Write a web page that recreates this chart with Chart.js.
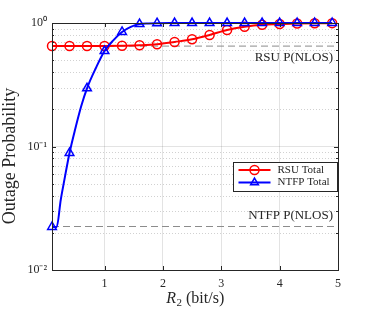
<!DOCTYPE html>
<html>
<head>
<meta charset="utf-8">
<script src="https://cdn.jsdelivr.net/npm/chart.js@4.4.0/dist/chart.umd.min.js"></script>
<style>
  html, body { margin: 0; padding: 0; background: #fff; }
  #wrap { width: 374px; height: 311px; }
</style>
</head>
<body>
<div id="wrap"><canvas id="outage"></canvas></div>
<script>
// rates where the markers sit (bit/s)
const markerRates = [0.1, 0.4, 0.7, 1.0, 1.3, 1.6, 1.9, 2.2, 2.5, 2.8, 3.1, 3.4, 3.7, 4.0, 4.3, 4.6, 4.9];
const rsuTotal = [0.651, 0.651, 0.651, 0.652, 0.655, 0.66, 0.672, 0.702, 0.738, 0.80, 0.878, 0.933, 0.969, 0.98, 0.99, 0.995, 0.997];

// NTFP curve has a few extra points near the steep part
const ntfpRates = [0.1, 0.18, 0.25, 0.3, 0.4, 0.5, 0.6, 0.7, 0.85, 1.0, 1.15, 1.3, 1.45, 1.6, 1.75, 1.9, 2.2, 2.5, 2.8, 3.1, 3.4, 3.7, 4.0, 4.3, 4.6, 4.9];
const ntfpTotal = [0.0223, 0.0223, 0.037, 0.05, 0.0886, 0.14, 0.212, 0.296, 0.43, 0.593, 0.724, 0.846, 0.93, 0.98, 0.992, 0.997, 0.999, 1, 1, 1, 1, 1, 1, 1, 1, 1];

const rsuNlos = 0.65;
const ntfpNlos = 0.0225;

const xTicks = [1, 2, 3, 4, 5];
const yTicks = [0.01, 0.1, 1];
const yTickLabels = { '-2': '10\u207B\u00B2', '-1': '10\u207B\u00B9', '0': '10\u2070' };
const seriesLabels = ['RSU Total', 'NTFP Total'];
const refLabels = ['RSU P(NLOS)', 'NTFP P(NLOS)'];
const yTitle = 'Outage Probability';

const serif = "'Liberation Serif', 'Times New Roman', serif";
const isMarker = (x) => markerRates.some(r => Math.abs(r - x) < 1e-6);

const toPoints = (xs, ys) => xs.map((x, i) => ({ x: x, y: ys[i] }));

// minor log grid, inward ticks, axes box, titles, legend
const frame = {
  id: 'frame',
  beforeDatasetsDraw(chart) {
    const { ctx, chartArea: ca, scales } = chart;
    const ys = scales.y;
    ctx.save();
    ctx.strokeStyle = 'rgba(0,0,0,0.18)';
    ctx.lineWidth = 1;
    ctx.setLineDash([1, 2]);
    for (let d = 0; d < yTicks.length - 1; d++) {
      for (let m = 2; m <= 9; m++) {
        const y = Math.round(ys.getPixelForValue(m * yTicks[d])) + 0.5;
        ctx.beginPath();
        ctx.moveTo(ca.left, y);
        ctx.lineTo(ca.right, y);
        ctx.stroke();
      }
    }
    ctx.restore();
  },
  afterDraw(chart) {
    const { ctx, chartArea: ca, scales } = chart;
    ctx.save();
    ctx.strokeStyle = '#262626';
    ctx.lineWidth = 1;
    ctx.strokeRect(Math.round(ca.left) + 0.5, Math.round(ca.top) + 0.5,
      Math.round(ca.right - ca.left), Math.round(ca.bottom - ca.top));
    ctx.beginPath();
    xTicks.forEach(v => {
      const x = Math.round(scales.x.getPixelForValue(v)) + 0.5;
      ctx.moveTo(x, ca.bottom); ctx.lineTo(x, ca.bottom - 4);
      ctx.moveTo(x, ca.top); ctx.lineTo(x, ca.top + 4);
    });
    for (let d = 0; d < yTicks.length; d++) {
      const ms = d < yTicks.length - 1 ? [1, 2, 3, 4, 5, 6, 7, 8, 9] : [1];
      ms.forEach(m => {
        const y = Math.round(scales.y.getPixelForValue(m * yTicks[d])) + 0.5;
        const len = m === 1 ? 4 : 2;
        ctx.moveTo(ca.left, y); ctx.lineTo(ca.left + len, y);
        ctx.moveTo(ca.right, y); ctx.lineTo(ca.right - len, y);
      });
    }
    ctx.stroke();

    // reference line captions
    ctx.fillStyle = '#262626';
    ctx.font = '13px ' + serif;
    ctx.textAlign = 'right';
    ctx.textBaseline = 'middle';
    ctx.fillText(refLabels[0], ca.right - 5, scales.y.getPixelForValue(rsuNlos) + 11);
    ctx.fillText(refLabels[1], ca.right - 5, scales.y.getPixelForValue(ntfpNlos) - 11);

    // axis titles
    ctx.save();
    ctx.translate(10, 156);
    ctx.rotate(-Math.PI / 2);
    ctx.textAlign = 'center';
    ctx.font = '18px ' + serif;
    ctx.fillText(yTitle, 0, 0);
    ctx.restore();

    const big = '16px ' + serif, small = '11px ' + serif;
    ctx.textAlign = 'left';
    ctx.textBaseline = 'alphabetic';
    ctx.font = 'italic ' + big;
    const wR = ctx.measureText('R').width;
    ctx.font = small;
    const w2 = ctx.measureText('2').width;
    ctx.font = big;
    const wRest = ctx.measureText(' (bit/s)').width;
    let tx = (ca.left + ca.right) / 2 - (wR + w2 + wRest) / 2;
    const ty = 303;
    ctx.font = 'italic ' + big;
    ctx.fillText('R', tx, ty); tx += wR + 0.5;
    ctx.font = small;
    ctx.fillText('2', tx, ty + 3); tx += w2;
    ctx.font = big;
    ctx.fillText(' (bit/s)', tx, ty);

    // legend box
    const bw = 104, bh = 29;
    const bx = Math.round(ca.right) - bw - 1 + 0.5;
    const by = Math.round(ca.top) + 139 + 0.5;
    ctx.fillStyle = '#fff';
    ctx.fillRect(bx, by, bw, bh);
    ctx.strokeStyle = '#262626';
    ctx.strokeRect(bx, by, bw, bh);
    ctx.textBaseline = 'middle';
    chart.data.datasets.slice(0, 2).forEach((ds, i) => {
      const ly = by + 7.5 + i * 12.5;
      ctx.strokeStyle = ds.borderColor;
      ctx.lineWidth = 2;
      ctx.beginPath();
      ctx.moveTo(bx + 5, ly); ctx.lineTo(bx + 37, ly);
      ctx.stroke();
      ctx.fillStyle = 'rgba(0,0,0,0)';
      ctx.lineWidth = 1.5;
      Chart.helpers.drawPoint(ctx, { pointStyle: ds.pointStyle, radius: 4.5, borderWidth: 1.5 }, bx + 21, ly);
      ctx.fillStyle = '#262626';
      ctx.font = '11px ' + serif;
      ctx.textAlign = 'left';
      ctx.fillText(seriesLabels[i], bx + 44, ly);
    });
    ctx.restore();
  }
};

new Chart(document.getElementById('outage'), {
  type: 'line',
  data: {
    datasets: [
      {
        label: seriesLabels[0],
        data: toPoints(markerRates, rsuTotal),
        borderColor: '#ff0000',
        backgroundColor: 'rgba(0,0,0,0)',
        pointBackgroundColor: 'rgba(0,0,0,0)',
        borderWidth: 2,
        pointStyle: 'circle',
        pointRadius: 4.5,
        pointBorderWidth: 1.5,
        cubicInterpolationMode: 'monotone',
        clip: false,
        order: 1
      },
      {
        label: seriesLabels[1],
        data: toPoints(ntfpRates, ntfpTotal),
        borderColor: '#0000ff',
        backgroundColor: 'rgba(0,0,0,0)',
        pointBackgroundColor: 'rgba(0,0,0,0)',
        borderWidth: 2,
        pointStyle: 'triangle',
        pointRadius: (c) => (c.raw && isMarker(c.raw.x)) ? 5 : 0,
        pointBorderWidth: 1.5,
        cubicInterpolationMode: 'monotone',
        clip: false,
        order: 0
      },
      {
        label: refLabels[0],
        data: toPoints([0.1, 5], [rsuNlos, rsuNlos]),
        borderColor: '#8c8c8c',
        borderWidth: 1,
        borderDash: [7, 4],
        pointRadius: 0,
        order: 2
      },
      {
        label: refLabels[1],
        data: toPoints([0.1, 5], [ntfpNlos, ntfpNlos]),
        borderColor: '#8c8c8c',
        borderWidth: 1,
        borderDash: [7, 4],
        pointRadius: 0,
        order: 2
      }
    ]
  },
  options: {
    responsive: true,
    maintainAspectRatio: false,
    animation: false,
    layout: { padding: { top: 23, right: 36, left: 0, bottom: 0 } },
    plugins: {
      legend: { display: false },
      tooltip: { enabled: false }
    },
    scales: {
      x: {
        type: 'linear',
        min: 0.1,
        max: 5,
        afterBuildTicks: (axis) => { axis.ticks = xTicks.map(v => ({ value: v })); },
        afterFit: (axis) => { axis.height = 41; },
        grid: { color: 'rgba(0,0,0,0.11)', drawTicks: false },
        border: { display: false },
        ticks: {
          padding: 7,
          color: '#262626',
          font: { family: serif, size: 12 },
          callback: (v) => String(v),
          autoSkip: false,
          maxRotation: 0
        }
      },
      y: {
        type: 'logarithmic',
        min: 0.01,
        max: 1,
        afterBuildTicks: (axis) => { axis.ticks = yTicks.map(v => ({ value: v, major: true })); },
        afterFit: (axis) => { axis.width = 52; },
        grid: { color: 'rgba(0,0,0,0.11)', drawTicks: false },
        border: { display: false },
        ticks: {
          padding: 5,
          color: '#262626',
          font: { family: serif, size: 12 },
          autoSkip: false,
          callback: (v) => yTickLabels[String(Math.round(Math.log10(v)))]
        }
      }
    }
  },
  plugins: [frame]
});
</script>
</body>
</html>
